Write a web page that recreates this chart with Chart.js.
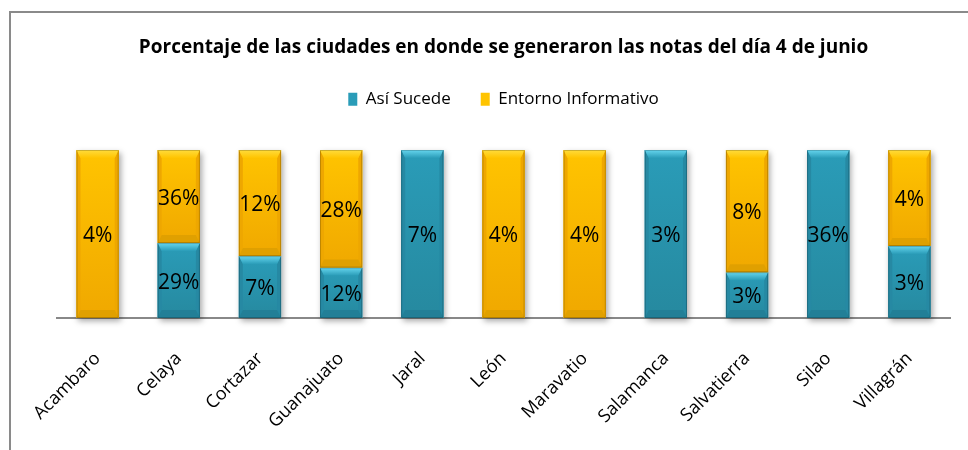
<!DOCTYPE html>
<html>
<head>
<meta charset="utf-8">
<script src="https://cdn.jsdelivr.net/npm/chart.js@4"></script>
<style>
	html, body { margin: 0; padding: 0; background: #fff; }
	#wrap { position: relative; width: 968px; height: 450px; }
	#frame { position: absolute; left: 9px; top: 11px; right: -4px; bottom: -4px; border-left: 2px solid #8a8a8a; border-top: 2px solid #8a8a8a; }
	canvas { position: absolute; left: 0; top: 0; }
</style>
</head>
<body>
<div id="wrap">
	<div id="frame"></div>
	<canvas id="chart" width="968" height="450"></canvas>
</div>
<script>
// Data (labels show the raw percentages, bars are 100% stacked)
const cities = ['Acambaro', 'Celaya', 'Cortazar', 'Guanajuato', 'Jaral', 'León', 'Maravatio', 'Salamanca', 'Salvatierra', 'Silao', 'Villagrán'];
const asiSucede = [0, 29, 7, 12, 7, 0, 0, 3, 3, 36, 3];
const entorno = [4, 36, 12, 28, 0, 4, 4, 0, 8, 0, 4];
const seriesNames = ['Así Sucede', 'Entorno Informativo'];

const FONT = '"Open Sans", sans-serif';

// share of each series inside its city (100% stacked)
const totals = cities.map((c, i) => asiSucede[i] + entorno[i]);
const share = arr => arr.map((v, i) => totals[i] ? v / totals[i] * 100 : 0);

const palette = [
	{ body: ['#2A9CB8', '#26899F'], top: '#66D6EE', bottom: '#227F97', side: '#2689A3' },
	{ body: ['#FFC400', '#F0A800'], top: '#FFDC3C', bottom: '#E0A000', side: '#EEA700' }
];

// soft shadow behind each stack
const shadowPlugin = {
	id: 'shadow',
	beforeDatasetsDraw(chart) {
		const ctx = chart.ctx;
		const m0 = chart.getDatasetMeta(0), m1 = chart.getDatasetMeta(1);
		ctx.save();
		ctx.shadowColor = 'rgba(0,0,0,0.35)';
		ctx.shadowBlur = 6;
		ctx.shadowOffsetX = 2;
		ctx.shadowOffsetY = 3;
		ctx.fillStyle = '#fff';
		m0.data.forEach((el, i) => {
			const top = Math.min(m1.data[i].y, el.y);
			ctx.fillRect(el.x - el.width / 2, top, el.width, el.base - top);
		});
		ctx.restore();
	}
};

// bevel edges on each segment
const bevelPlugin = {
	id: 'bevel',
	afterDatasetsDraw(chart) {
		const ctx = chart.ctx;
		chart.data.datasets.forEach((ds, d) => {
			const pal = palette[d];
			chart.getDatasetMeta(d).data.forEach(el => {
				const l = el.x - el.width / 2, r = el.x + el.width / 2;
				const t = Math.min(el.y, el.base), b = Math.max(el.y, el.base);
				const h = b - t;
				if (h < 1) return;
				const bv = Math.min(8, h / 3), sv = 4;
				ctx.save();
				// body gradient
				const gb = ctx.createLinearGradient(0, t, 0, b);
				gb.addColorStop(0, pal.body[0]);
				gb.addColorStop(1, pal.body[1]);
				ctx.fillStyle = gb;
				ctx.fillRect(l, t, el.width, h);
				// sides
				ctx.fillStyle = pal.side;
				ctx.beginPath();
				ctx.moveTo(l, t); ctx.lineTo(l + sv, t + bv); ctx.lineTo(l + sv, b - bv); ctx.lineTo(l, b); ctx.closePath(); ctx.fill();
				ctx.beginPath();
				ctx.moveTo(r, t); ctx.lineTo(r - sv, t + bv); ctx.lineTo(r - sv, b - bv); ctx.lineTo(r, b); ctx.closePath(); ctx.fill();
				// top
				const g = ctx.createLinearGradient(0, t, 0, t + bv);
				g.addColorStop(0, pal.top);
				g.addColorStop(1, pal.body[0]);
				ctx.fillStyle = g;
				ctx.beginPath();
				ctx.moveTo(l, t); ctx.lineTo(r, t); ctx.lineTo(r - sv, t + bv); ctx.lineTo(l + sv, t + bv); ctx.closePath(); ctx.fill();
				// bottom
				ctx.fillStyle = pal.bottom;
				ctx.beginPath();
				ctx.moveTo(l, b); ctx.lineTo(r, b); ctx.lineTo(r - sv, b - bv); ctx.lineTo(l + sv, b - bv); ctx.closePath(); ctx.fill();
				ctx.strokeStyle = 'rgba(0,0,0,0.2)';
				ctx.lineWidth = 1;
				ctx.strokeRect(l + 0.5, t + 0.5, el.width - 1, h - 1);
				ctx.restore();
			});
		});
	}
};

// value labels in the middle of each segment
const valueLabels = {
	id: 'valueLabels',
	afterDatasetsDraw(chart) {
		const ctx = chart.ctx;
		const raw = [asiSucede, entorno];
		ctx.save();
		ctx.font = '21px ' + FONT;
		ctx.fillStyle = '#000';
		ctx.textAlign = 'center';
		ctx.textBaseline = 'middle';
		chart.data.datasets.forEach((ds, d) => {
			chart.getDatasetMeta(d).data.forEach((el, i) => {
				if (!raw[d][i]) return;
				ctx.fillText(raw[d][i] + '%', el.x, (el.y + el.base) / 2 + 2);
			});
		});
		ctx.restore();
	}
};

const ctx = document.getElementById('chart').getContext('2d');
new Chart(ctx, {
	type: 'bar',
	data: {
		labels: cities,
		datasets: [
			{ label: seriesNames[0], data: share(asiSucede), backgroundColor: palette[0].body[0] },
			{ label: seriesNames[1], data: share(entorno), backgroundColor: palette[1].body[0] }
		]
	},
	options: {
		responsive: false,
		animation: false,
		layout: { padding: { left: 57, right: 18, top: 24, bottom: 0 } },
		datasets: { bar: { categoryPercentage: 0.52, barPercentage: 1 } },
		plugins: {
			title: {
				display: true,
				text: 'Porcentaje de las ciudades en donde se generaron las notas del día 4 de junio',
				color: '#000',
				font: { family: FONT, size: 19, weight: 'bold' },
				padding: { top: 12, bottom: 2 }
			},
			// empty spacer between legend and bars
			subtitle: {
				display: true,
				text: '',
				weight: 500,
				font: { size: 1 },
				padding: { top: 15, bottom: 16 }
			},
			legend: {
				position: 'top',
				labels: {
					color: '#000',
					boxWidth: 9,
					boxHeight: 13,
					padding: 30,
					font: { family: FONT, size: 17 }
				}
			},
			tooltip: { enabled: false }
		},
		scales: {
			x: {
				stacked: true,
				grid: { display: false, drawTicks: false },
				border: { color: '#888', width: 2 },
				afterFit(scale) {
					scale.height = 132;
					scale.paddingLeft = 0;
					scale.paddingRight = 0;
				},
				ticks: {
					color: '#000',
					minRotation: 45,
					maxRotation: 45,
					padding: 30,
					font: { family: FONT, size: 18 }
				}
			},
			y: {
				stacked: true,
				display: false,
				min: 0,
				max: 100
			}
		}
	},
	plugins: [shadowPlugin, bevelPlugin, valueLabels]
});
</script>
</body>
</html>
